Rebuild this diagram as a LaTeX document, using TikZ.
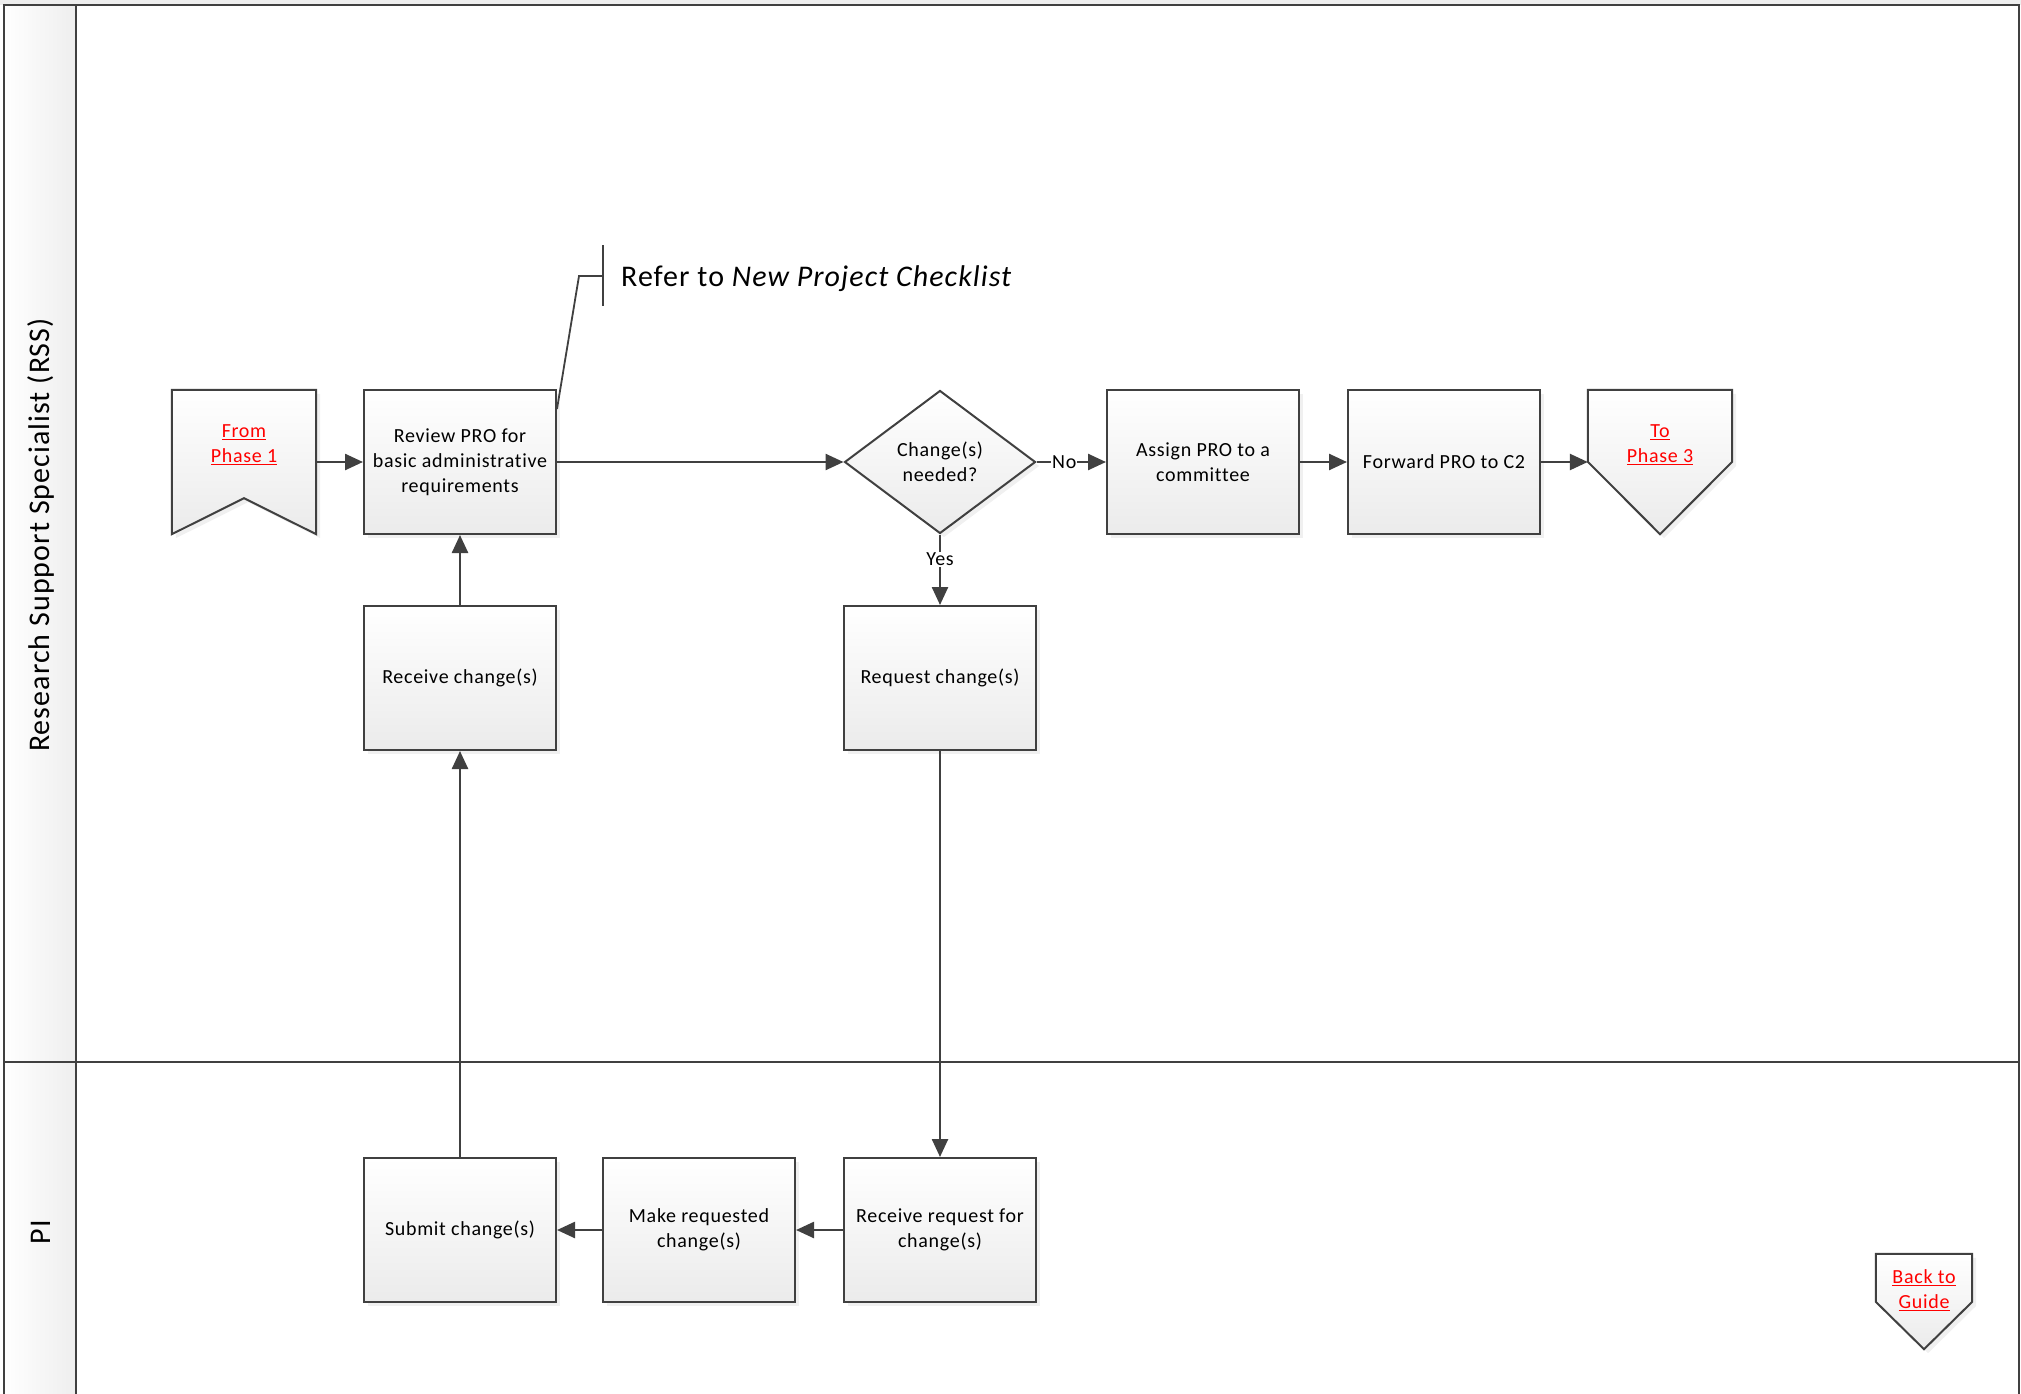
\documentclass[tikz,border=0pt]{standalone}
\usepackage{fontspec}
\setmainfont{Carlito}[LetterSpace=3.5, Ligatures={NoCommon}]
\usetikzlibrary{arrows.meta,shadows,calc,shapes.geometric}
\definecolor{ln}{HTML}{404040}
\definecolor{lnk}{HTML}{FF0000}
\definecolor{shd}{HTML}{EBEBEB}
\definecolor{hdr}{HTML}{EEEEEE}
\tikzset{
  boxfill/.style={draw=ln, line width=2pt, top color=white, bottom color=shd,
    drop shadow={opacity=0.12, shadow xshift=4pt, shadow yshift=-4pt}},
  box/.style={boxfill, rectangle, minimum width=192pt, minimum height=144pt,
    inner sep=0pt, align=center, font=\fontsize{20}{25}\selectfont},
  decision/.style={boxfill, diamond, minimum width=191pt, minimum height=143pt,
    inner sep=0pt, align=center, font=\fontsize{20}{25}\selectfont},
  ghost/.style={rectangle, draw=none, inner sep=0pt},
  linktext/.style={align=center, text=lnk, inner sep=0pt, font=\fontsize{20}{25}\selectfont},
  conn/.style={draw=ln, line width=2.5pt, -{Triangle[length=18pt,width=16pt]}},
  lbl/.style={fill=white, inner sep=1pt, font=\fontsize{20}{25}\selectfont},
  lane/.style={draw=ln, line width=2.2pt},
  lanetext/.style={rotate=90, font=\fontsize{30}{36}\selectfont},
}
\begin{document}
\begin{tikzpicture}[x=1pt,y=-1pt]
\useasboundingbox (0,0) rectangle (2021,1394);
% top strip and lane header background
\fill[hdr] (0,0) rectangle (2021,5);
\shade[left color=white, right color=hdr] (4,5) rectangle (76,1394);
% lane lines
\draw[lane] (4,1394) -- (4,5) -- (2019,5) -- (2019,1394);
\draw[lane] (76,5) -- (76,1394);
\draw[lane] (4,1062) -- (2019,1062);
\node[lanetext] (rss) at (41,535) {Research Support Specialist (RSS)};
\node[lanetext] (pi) at (41,1232) {PI};

% off-page from
\node[ghost, minimum width=144pt, minimum height=144pt] (from) at (244,462) {};
\path[boxfill] (from.north west) -- (from.north east) -- (from.south east)
  -- ($(from.south)+(0,-36)$) -- (from.south west) -- cycle;
\node[linktext] (fromtxt) at (244,445) {\underline{From}\\\underline{Phase 1}};

% process boxes
\node[box] (review) at (460,462) {Review PRO for\\basic administrative\\requirements};
\node[decision] (dec) at (940,462) {Change(s)\\needed?};
\node[box] (assign) at (1203,462) {Assign PRO to a\\committee};
\node[box] (forward) at (1444,462) {Forward PRO to C2};

% off-page to
\node[ghost, minimum width=144pt, minimum height=144pt] (to) at (1660,462) {};
\path[boxfill] (to.north west) -- (to.north east) -- ($(to.north east)+(0,72)$)
  -- (to.south) -- ($(to.north west)+(0,72)$) -- cycle;
\node[linktext] (totxt) at (1660,445) {\underline{To}\\\underline{Phase 3}};

\node[box] (recv) at (460,678) {Receive change(s)};
\node[box] (req) at (940,678) {Request change(s)};

\node[box] (submit) at (460,1230) {Submit change(s)};
\node[box] (make) at (699,1230) {Make requested\\change(s)};
\node[box] (recvreq) at (940,1230) {Receive request for\\change(s)};

% back to guide
\node[ghost, minimum width=96pt, minimum height=95pt] (back) at (1924,1301.5) {};
\path[boxfill] (back.north west) -- (back.north east) -- ($(back.north east)+(0,48)$)
  -- (back.south) -- ($(back.north west)+(0,48)$) -- cycle;
\node[linktext] (backtxt) at (1924,1290) {\underline{Back to}\\\underline{Guide}};

% annotation
\coordinate (nb) at (603,276);
\coordinate (nk) at (579,276);
\coordinate (nt) at (603,245);
\coordinate (nbt) at (603,306);
\node[anchor=west, inner sep=0pt, font=\fontsize{30}{36}\selectfont] (note) at (621,279)
  {Refer to \textit{New Project Checklist}};
\draw[ln, line width=1.8pt] ($(review.north east)+(0,20)$) -- (nk) -- (nb);
\draw[ln, line width=1.8pt] (nt) -- (nbt);

% connectors
\draw[conn] (from) -- (review);
\draw[conn] (review) -- (dec);
\draw[conn] (dec.east) -- node[lbl, pos=0.4] (no) {No} (assign.west |- dec.east);
\draw[conn] (assign) -- (forward);
\draw[conn] (forward) -- (to.west);
\draw[conn] (dec.south) -- node[lbl, pos=0.35] (yes) {Yes} (req.north);
\draw[conn] (req.south) -- (recvreq.north);
\draw[conn] (recvreq) -- (make);
\draw[conn] (make) -- (submit);
\draw[conn] (submit) -- (recv);
\draw[conn] (recv) -- (review);
\end{tikzpicture}
\end{document}
